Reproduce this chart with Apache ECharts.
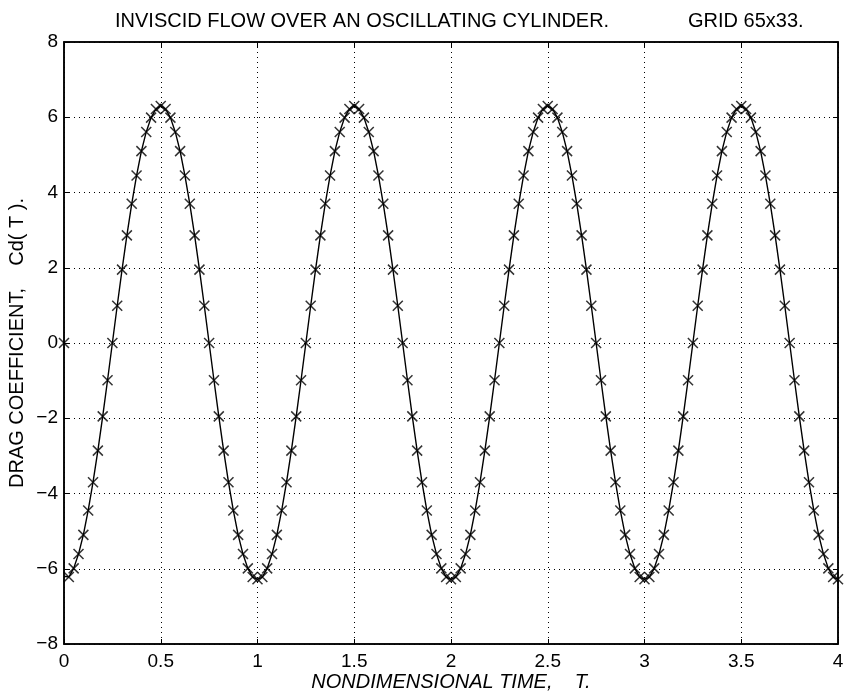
<!DOCTYPE html>
<html>
<head>
<meta charset="utf-8">
<script src="https://cdn.jsdelivr.net/npm/echarts@6/dist/echarts.min.js"></script>
<style>
  html, body { margin: 0; padding: 0; background: #fff; }
  #chart { width: 847px; height: 697px; }
</style>
</head>
<body>
<div id="chart"></div>
<script>
// time step between samples (T)
var dt = 0.025;

// Cd(T), one row per half period; first value is the start marker at T=0
var cd = [0.00,
    -6.22, -5.99, -5.61, -5.10, -4.45, -3.70, -2.86, -1.95, -0.99, 0.00,
     0.99,  1.95,  2.86,  3.70,  4.45,  5.10,  5.61,  5.99,  6.22,  6.30,
     6.22,  5.99,  5.61,  5.10,  4.45,  3.70,  2.86,  1.95,  0.99,  0.00,
    -0.99, -1.95, -2.86, -3.70, -4.45, -5.10, -5.61, -5.99, -6.22, -6.28,
    -6.22, -5.99, -5.61, -5.10, -4.45, -3.70, -2.86, -1.95, -0.99, 0.00,
     0.99,  1.95,  2.86,  3.70,  4.45,  5.10,  5.61,  5.99,  6.22,  6.30,
     6.22,  5.99,  5.61,  5.10,  4.45,  3.70,  2.86,  1.95,  0.99,  0.00,
    -0.99, -1.95, -2.86, -3.70, -4.45, -5.10, -5.61, -5.99, -6.22, -6.28,
    -6.22, -5.99, -5.61, -5.10, -4.45, -3.70, -2.86, -1.95, -0.99, 0.00,
     0.99,  1.95,  2.86,  3.70,  4.45,  5.10,  5.61,  5.99,  6.22,  6.30,
     6.22,  5.99,  5.61,  5.10,  4.45,  3.70,  2.86,  1.95,  0.99,  0.00,
    -0.99, -1.95, -2.86, -3.70, -4.45, -5.10, -5.61, -5.99, -6.22, -6.28,
    -6.22, -5.99, -5.61, -5.10, -4.45, -3.70, -2.86, -1.95, -0.99, 0.00,
     0.99,  1.95,  2.86,  3.70,  4.45,  5.10,  5.61,  5.99,  6.22,  6.30,
     6.22,  5.99,  5.61,  5.10,  4.45,  3.70,  2.86,  1.95,  0.99,  0.00,
    -0.99, -1.95, -2.86, -3.70, -4.45, -5.10, -5.61, -5.99, -6.22, -6.28];

// the solid curve starts here at T=0 instead of at the start marker
var lineStart = -6.2;

var xTicks = [0, 0.5, 1, 1.5, 2, 2.5, 3, 3.5, 4];
var yTicks = [-8, -6, -4, -2, 0, 2, 4, 6, 8];

var titleText = 'INVISCID FLOW OVER AN OSCILLATING CYLINDER.';
var gridText = 'GRID 65x33.';
var xName = 'NONDIMENSIONAL TIME,    T.';
var yName = 'DRAG COEFFICIENT,    Cd( T ).';

var font = '"Liberation Sans", Arial, Helvetica, sans-serif';

var marks = [];
var curve = [];
for (var i = 0; i < cd.length; i++) {
    var t = +(i * dt).toFixed(3);
    marks.push([t, cd[i]]);
    curve.push([t, i === 0 ? lineStart : cd[i]]);
}

function minus(v) {
    return String(v).replace('-', '\u2212');
}

var dotted = { show: true, lineStyle: { color: '#000', width: 1, type: [1, 4] } };
var frameTick = { show: true, inside: true, length: 5, lineStyle: { color: '#000' } };

var option = {
    animation: false,
    backgroundColor: '#fff',
    textStyle: { fontFamily: font, color: '#000' },
    title: [
        { text: titleText, left: 110, top: 6,
          textStyle: { fontFamily: font, fontSize: 20, fontWeight: 'normal', color: '#000' } },
        { text: gridText, left: 683, top: 6,
          textStyle: { fontFamily: font, fontSize: 20, fontWeight: 'normal', color: '#000' } }
    ],
    grid: { left: 64, right: 9, top: 42, bottom: 53, outerBoundsMode: 'none', containLabel: false,
            show: true, borderColor: '#000', borderWidth: 1.5 },
    xAxis: [{
        type: 'value', min: xTicks[0], max: xTicks[xTicks.length - 1], interval: 0.5,
        name: xName, nameLocation: 'middle', nameGap: 28, nameMoveOverlap: false,
        nameTextStyle: { fontFamily: font, fontSize: 20, fontStyle: 'italic', color: '#000' },
        axisLine: { show: true, onZero: false, lineStyle: { color: '#000', width: 1.5 } },
        axisTick: frameTick,
        axisLabel: { fontFamily: font, fontSize: 19, color: '#000', margin: 8,
                     formatter: function (v) { return minus(v); } },
        splitLine: dotted
    }, {
        type: 'value', position: 'top', min: 0, max: 4, interval: 0.5,
        axisLine: { show: true, onZero: false, lineStyle: { color: '#000', width: 1.5 } },
        axisTick: frameTick,
        axisLabel: { show: false }, splitLine: { show: false }
    }],
    yAxis: [{
        type: 'value', min: yTicks[0], max: yTicks[yTicks.length - 1], interval: 2,
        name: yName, nameLocation: 'middle', nameGap: 37, nameMoveOverlap: false,
        nameTextStyle: { fontFamily: font, fontSize: 20, color: '#000' },
        axisLine: { show: true, onZero: false, lineStyle: { color: '#000', width: 1.5 } },
        axisTick: frameTick,
        axisLabel: { fontFamily: font, fontSize: 19, color: '#000', margin: 6,
                     formatter: function (v) { return minus(v); } },
        splitLine: dotted
    }, {
        type: 'value', position: 'right', min: -8, max: 8, interval: 2,
        axisLine: { show: true, onZero: false, lineStyle: { color: '#000', width: 1.5 } },
        axisTick: frameTick,
        axisLabel: { show: false }, splitLine: { show: false }
    }],
    series: [{
        name: 'curve',
        type: 'line',
        data: curve,
        showSymbol: false,
        symbol: 'none',
        lineStyle: { color: '#000', width: 1.4 },
        z: 3
    }, {
        name: 'marks',
        type: 'scatter',
        data: marks,
        symbol: 'path://M0,0L10,10M10,0L0,10',
        symbolSize: 10,
        itemStyle: { color: 'none', borderColor: '#000', borderWidth: 1.5 },
        z: 4
    }]
};

var myChart = echarts.init(document.getElementById('chart'));
myChart.setOption(option);
</script>
</body>
</html>
